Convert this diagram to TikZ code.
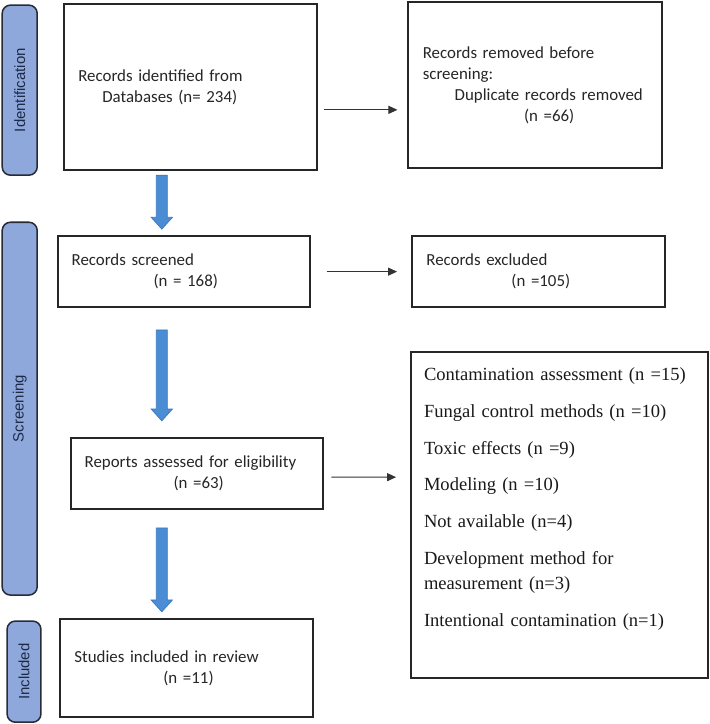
\documentclass[tikz,border=0pt]{standalone}
\usepackage{fontspec}
\setmainfont{Liberation Serif}
\newfontfamily\recfont{Carlito}
\newfontfamily\tabfont{Liberation Sans}
\usetikzlibrary{arrows.meta}

\definecolor{tabfill}{HTML}{8FA8DC}
\definecolor{tabline}{HTML}{262B36}
\definecolor{tabtext}{HTML}{1E2A45}
\definecolor{arrfill}{HTML}{4A8DD5}
\definecolor{arrline}{HTML}{3A78BE}

\begin{document}
\begin{tikzpicture}
\tikzset{
  phase/.style={draw=tabline, line width=1.1pt, fill=tabfill, rounded corners=6pt, rotate=90,
    minimum height=0.89cm, text=tabtext, font=\tabfont\fontsize{10.8}{13}\selectfont},
  recbox/.style={draw=black!85, line width=1.1pt, text width=5.7cm, align=left, inner xsep=0pt,
    text=black!85, font=\recfont\fontsize{12.2}{15.1}\selectfont},
  listbox/.style={draw=black!85, line width=1.1pt, text width=6.88cm, align=left, inner xsep=0pt,
    text=black!90, font=\fontsize{13.4}{18}\selectfont},
  flow/.style={-{Triangle[length=6.5pt, width=5.8pt]}, line width=0.6pt, black!80},
  bigarrow/.style={fill=arrfill, draw=arrline, line width=0.5pt}
}
\useasboundingbox (0,0) rectangle (18.01,-18.39);

% Phases (left)
\node[phase, minimum width=4.32cm] (ph_id) at (0.50,-2.29) {Identification};
\node[phase, minimum width=9.47cm] (ph_scr) at (0.50,-10.38) {Screening};
\node[phase, minimum width=2.57cm, minimum height=0.86cm] (ph_inc) at (0.61,-17.06) {Included};

% Main column
\node[recbox, minimum width=6.43cm, minimum height=4.22cm] (rec_id) at (4.84,-2.21)
  {Records identified from\\\hspace*{0.61cm}Databases (n= 234)};
\node[recbox, minimum width=6.40cm, minimum height=1.80cm] (rec_scr) at (4.67,-6.90)
  {Records screened\\\hspace*{2.08cm}(n = 168)};
\node[recbox, minimum width=6.40cm, minimum height=1.80cm] (rep_ass) at (5.00,-12.03)
  {Reports assessed for eligibility\\\hspace*{2.26cm}(n =63)};
\node[recbox, minimum width=6.43cm, minimum height=2.49cm] (stud_inc) at (4.74,-16.97)
  {Studies included in review\\\hspace*{2.26cm}(n =11)};

% Exclusions (right)
\node[recbox, minimum width=6.45cm, minimum height=4.22cm] (rec_rem) at (13.59,-2.16)
  {Records removed before\\screening:\\\hspace*{0.81cm}Duplicate records removed\\\hspace*{2.57cm}(n =66)};
\node[recbox, minimum width=6.43cm, minimum height=1.80cm] (rec_exc) at (13.68,-6.90)
  {Records excluded\\\hspace*{2.16cm}(n =105)};
\node[listbox, minimum width=7.54cm, minimum height=8.28cm] (rep_exc) at (14.21,-13.08)
  {Contamination assessment (n =15)\\[8.6pt]
   Fungal control methods (n =10)\\[8.6pt]
   Toxic effects (n =9)\\[8.6pt]
   Modeling (n =10)\\[8.6pt]
   Not available (n=4)\\[8.6pt]
   Development method for\\measurement (n=3)\\[8.6pt]
   Intentional contamination (n=1)\par\vspace{0.82cm}};

% Side arrows
\draw[flow] ([xshift=0.15cm,yshift=-0.58cm]rec_id.east) -- ([xshift=-0.25cm,yshift=-0.63cm]rec_rem.west);
\draw[flow] ([xshift=0.41cm]rec_scr.east) -- ([xshift=-0.36cm]rec_exc.west);
\draw[flow] ([xshift=0.20cm,yshift=-0.09cm]rep_ass.east) -- ([xshift=-0.36cm,yshift=0.96cm]rep_exc.west);

% Block arrows down the main column
\foreach \ya/\yb in {-4.45/-5.82, -8.38/-10.69, -13.41/-15.54}
  \draw[bigarrow] (3.97,\ya) -- (4.25,\ya) -- (4.25,\yb+0.30) -- (4.38,\yb+0.30)
    -- (4.11,\yb) -- (3.84,\yb+0.30) -- (3.97,\yb+0.30) -- cycle;

\end{tikzpicture}
\end{document}
